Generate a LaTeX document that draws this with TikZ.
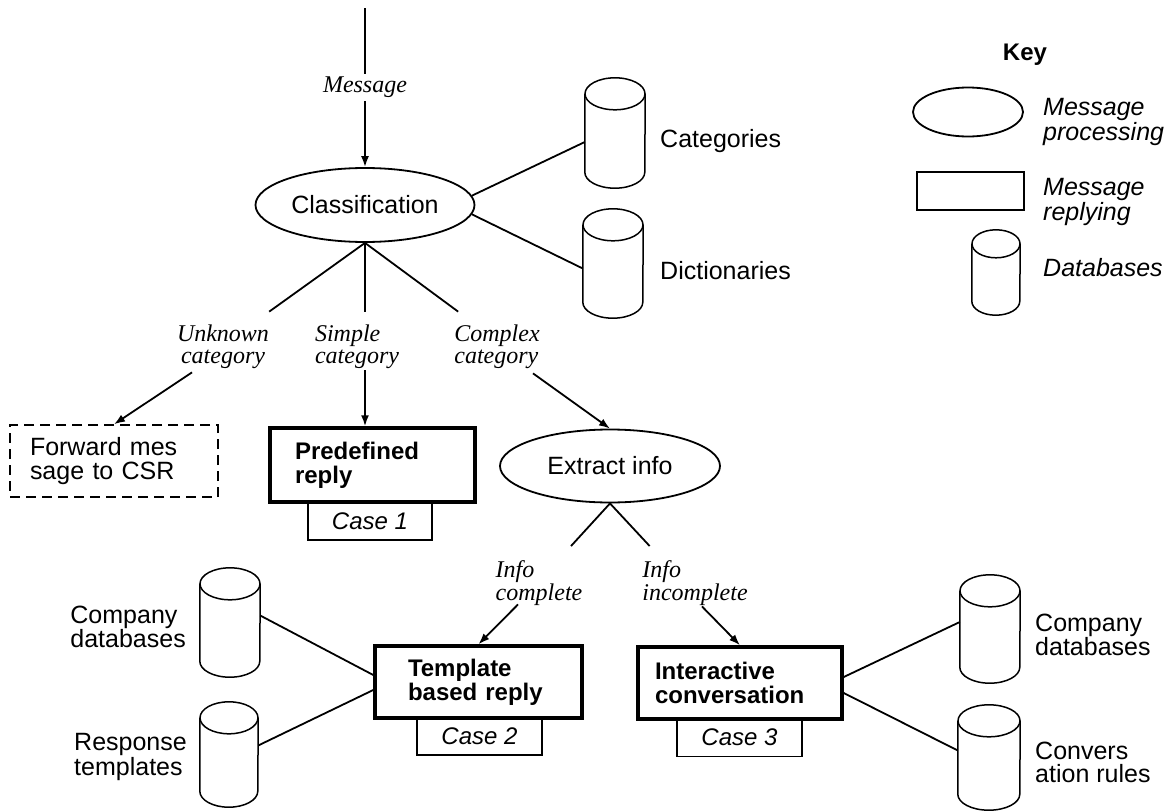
\documentclass[tikz,border=0pt]{standalone}
\usepackage{fontspec}
\setmainfont{Liberation Sans}
\newfontfamily\lblfont{Liberation Serif}
\usetikzlibrary{shapes.geometric,arrows.meta,calc}
\tikzset{
  proc/.style={ellipse, draw, line width=1.8pt, inner sep=0pt, font=\fontsize{25}{25}\selectfont},
  reply/.style={rectangle, draw, line width=3.5pt, align=left, inner ysep=0pt, font=\fontsize{24}{24}\selectfont\bfseries},
  casebox/.style={rectangle, draw, line width=1.3pt, inner sep=0pt, font=\fontsize{24}{24}\selectfont\itshape},
  dbline/.style={line width=1.5pt},
  dbtext/.style={align=left, inner sep=0pt, font=\fontsize{25}{23}\selectfont},
  keytext/.style={align=left, inner sep=0pt, font=\fontsize{25}{23}\selectfont\itshape},
  lbl/.style={align=left, inner sep=1pt, font=\lblfont\itshape\fontsize{24}{22.5}\selectfont},
  link/.style={line width=1.8pt},
  arr/.style={link, -{Latex[length=11pt,width=8pt]}}
}
% database cylinder: name, x, y, x radius, cap y radius, height
\newcommand{\dbcyl}[6]{%
  \node[inner sep=0pt, minimum width=2*#4pt, minimum height=#6pt] (#1) at (#2,#3) {};
  \draw[dbline] ([yshift=-#5pt]#1.north west) -- ([yshift=#5pt]#1.south west)
     arc[start angle=180, end angle=360, x radius=#4pt, y radius=#5pt]
     -- ([yshift=-#5pt]#1.north east);
  \draw[dbline] ([yshift=-#5pt]#1.north) ellipse [x radius=#4pt, y radius=#5pt];
}
\begin{document}
\begin{tikzpicture}[x=1pt,y=-1pt]
\useasboundingbox (0,0) rectangle (1173,811);

% ---------- main flow ----------
\coordinate (in) at (365,8);
\node[proc, minimum width=219pt, minimum height=74pt] (class) at (365,205) {Classification};
\draw[arr] (in) -- node[lbl, fill=white, inner sep=3pt, align=center] (msg) {Message} (class.north);

\dbcyl{cat}{615}{133}{30}{16}{110}
\node[dbtext, anchor=west] (cattxt) at (660,141) {Categories};
\dbcyl{dic}{613}{263.5}{30}{16}{109}
\node[dbtext, anchor=west] (dictxt) at (660,271) {Dictionaries};
\draw[link] (class.5) -- ($(cat.west)+(0,9)$);
\draw[link] (class.-5) -- ($(dic.west)+(0,5)$);

\node[lbl, align=center] (lunk) at (223,347) {Unknown\\category};
\node[lbl] (lsim) at (357,347) {Simple\\category};
\node[lbl] (lcom) at (497,347) {Complex\\category};
\draw[link] (class.south) -- ($(lunk.north east)+(-1,-12)$);
\draw[link] (class.south) -- ($(class.south |- lsim.north)+(0,-12)$);
\draw[link] (class.south) -- ($(lcom.north west)+(5,-12)$);

\node[rectangle, draw, dashed, dash pattern=on 10pt off 6pt, line width=1.4pt,
      minimum width=208pt, minimum height=72pt, text width=168pt, inner xsep=20pt,
      align=left, font=\fontsize{25}{24}\selectfont] (fwd) at (114,461) {Forward mes\\sage to CSR};

\node[casebox, minimum width=124pt, minimum height=38pt] (case1) at (370,521) {Case 1};
\node[reply, minimum width=205pt, minimum height=74pt, text width=155pt, inner xsep=25pt] (pre) at (372.5,465) {Predefined\\reply};

\node[proc, minimum width=220pt, minimum height=73pt] (ext) at (610,466) {Extract info};

\draw[arr] ($(lunk.south)+(-31,2)$) -- (fwd.north);
\draw[arr] (class.south |- lsim.south) -- (class.south |- pre.north);
\draw[arr] ($(lcom.south)+(36,3)$) -- (ext.north);

\node[lbl] (lic) at (539,583) {Info\\complete};
\node[lbl] (linc) at (695,583) {Info\\incomplete};
\draw[link] (ext.south) -- ($(lic.north east)+(-12.5,-13.5)$);
\draw[link] (ext.south) -- ($(linc.north west)+(8.5,-13.5)$);

\node[casebox, minimum width=125pt, minimum height=37pt] (case2) at (479.5,736.5) {Case 2};
\node[reply, minimum width=207pt, minimum height=72pt, text width=141pt, inner xsep=33pt] (tpl) at (478.5,682) {Template\\based reply};
\node[casebox, minimum width=125pt, minimum height=38pt] (case3) at (739.5,737.5) {Case 3};
\node[reply, minimum width=204pt, minimum height=72pt, text width=170pt, inner xsep=17pt] (inter) at (740,683) {Interactive\\conversation};

\draw[arr] ($(lic.south)+(-21,-2)$) -- (tpl.north);
\draw[arr] ($(linc.south)+(7,0)$) -- (inter.north);

% left databases
\dbcyl{lcomp}{230}{622.5}{30}{16}{109}
\node[dbtext, anchor=east] (lcomptxt) at (186,627) {Company\\databases};
\dbcyl{lresp}{229}{754.5}{29}{16}{105}
\node[dbtext, anchor=east] (lresptxt) at (187,757) {Response\\templates};
\draw[link] ($(lcomp.east)+(0,-7)$) -- ($(tpl.west)+(0,-7)$);
\draw[link] ($(lresp.east)+(0,-9)$) -- ($(tpl.west)+(0,8)$);

% right databases
\dbcyl{rcomp}{990}{629}{30}{16}{108}
\node[dbtext, anchor=west] (rcomptxt) at (1035,635) {Company\\databases};
\dbcyl{rconv}{989}{757.5}{31}{16}{105}
\node[dbtext, anchor=west] (rconvtxt) at (1035,762) {Convers\\ation rules};
\draw[link] ($(inter.east)+(0,-6)$) -- ($(rcomp.west)+(0,-7)$);
\draw[link] ($(inter.east)+(0,10)$) -- ($(rconv.west)+(0,-7)$);

% ---------- key ----------
\node[font=\fontsize{24}{24}\selectfont\bfseries, inner sep=0pt] (key) at (1025,55) {Key};
\node[proc, minimum width=110pt, minimum height=49pt] (kell) at (968,112) {};
\node[keytext, anchor=west] (kelltxt) at (1043,122) {Message\\processing};
\node[rectangle, draw, line width=1.6pt, minimum width=107pt, minimum height=38pt] (krect) at (970.5,191) {};
\node[keytext, anchor=west] (krecttxt) at (1043,202) {Message\\replying};
\dbcyl{kdb}{996}{272.5}{24}{14}{85}
\node[keytext, anchor=west] (kdbtxt) at (1043,268) {Databases};
\end{tikzpicture}
\end{document}
